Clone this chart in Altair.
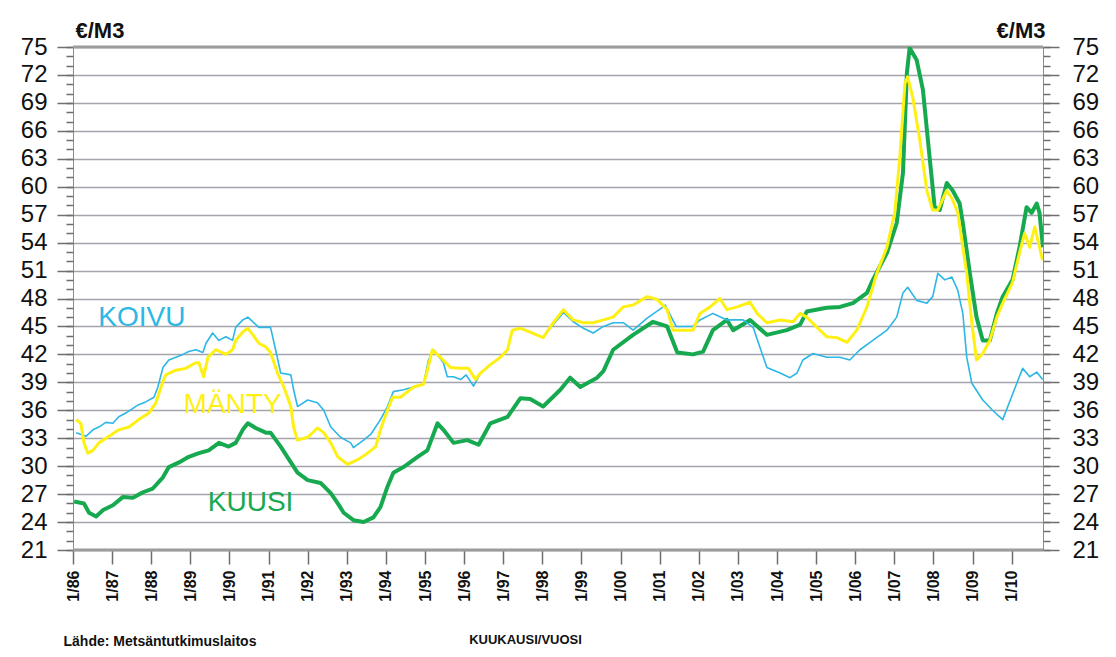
import altair as alt
import pandas as pd

# ---------------- data ----------------
koivu_t = [1986.08, 1986.33, 1986.51, 1986.66, 1986.84, 1987.02, 1987.17, 1987.35, 1987.53, 1987.68,
           1987.86, 1988.07, 1988.17, 1988.30, 1988.45, 1988.63, 1988.81, 1988.96, 1989.14, 1989.32,
           1989.40, 1989.57, 1989.73, 1989.91, 1990.08, 1990.16, 1990.34, 1990.47, 1990.60, 1990.75,
           1990.93, 1991.05, 1991.18, 1991.31, 1991.57, 1991.64, 1991.74, 1992.00, 1992.25, 1992.41,
           1992.59, 1992.84, 1993.10, 1993.17, 1993.43, 1993.61, 1993.86, 1994.04, 1994.19, 1994.45,
           1994.71, 1994.96, 1995.09, 1995.22, 1995.47, 1995.57, 1995.73, 1995.91, 1996.05, 1996.24,
           1996.42, 1996.67, 1996.93, 1997.11, 1997.23, 1997.44, 1997.69, 1998.02, 1998.28, 1998.54,
           1998.79, 1999.05, 1999.30, 1999.56, 1999.81, 2000.07, 2000.32, 2000.68, 2001.09, 2001.14,
           2001.42, 2001.85, 2002.03, 2002.36, 2002.72, 2003.13, 2003.39, 2003.56, 2003.74, 2004.08,
           2004.33, 2004.51, 2004.66, 2004.92, 2005.27, 2005.61, 2005.86, 2006.12, 2006.45, 2006.81,
           2007.06, 2007.22, 2007.34, 2007.57, 2007.83, 2007.98, 2008.11, 2008.29, 2008.47, 2008.62,
           2008.75, 2008.85, 2008.98, 2009.26, 2009.51, 2009.77, 2009.90, 2010.13, 2010.28, 2010.46,
           2010.64, 2010.79]
koivu_v = [33.6, 33.2, 33.9, 34.2, 34.7, 34.6, 35.3, 35.7, 36.2, 36.6,
           36.9, 37.4, 38.5, 40.6, 41.4, 41.7, 42.0, 42.3, 42.5, 42.2,
           43.2, 44.3, 43.5, 43.9, 43.5, 44.9, 45.7, 46.0, 45.5, 44.9,
           44.9, 44.9, 42.5, 40.0, 39.8, 38.2, 36.4, 37.1, 36.8, 36.0,
           34.2, 33.1, 32.5, 32.0, 32.8, 33.4, 35.0, 36.4, 38.0, 38.2,
           38.5, 38.8, 41.4, 42.5, 41.1, 39.6, 39.6, 39.3, 39.8, 38.6,
           40.0, 40.9, 41.7, 42.5, 44.6, 44.8, 44.4, 43.8, 45.2, 46.5,
           45.5, 44.8, 44.3, 45.0, 45.4, 45.4, 44.6, 45.9, 47.1, 47.3,
           45.0, 45.0, 45.7, 46.4, 45.7, 45.7, 44.9, 42.8, 40.6, 40.0,
           39.5, 40.0, 41.4, 42.1, 41.7, 41.7, 41.4, 42.5, 43.5, 44.6,
           46.0, 48.6, 49.2, 47.8, 47.5, 48.2, 50.7, 50.0, 50.3, 48.9,
           46.4, 41.7, 38.9, 37.1, 36.0, 35.0, 36.4, 38.9, 40.5, 39.6,
           40.1, 39.3]

manty_t = [1986.08, 1986.20, 1986.28, 1986.38, 1986.51, 1986.66, 1986.92, 1987.17, 1987.43, 1987.68,
           1987.94, 1988.12, 1988.25, 1988.37, 1988.63, 1988.88, 1989.14, 1989.22, 1989.34, 1989.45,
           1989.65, 1989.91, 1990.08, 1990.16, 1990.34, 1990.47, 1990.60, 1990.75, 1990.93, 1991.05,
           1991.23, 1991.39, 1991.57, 1991.64, 1991.74, 1992.00, 1992.25, 1992.41, 1992.59, 1992.77,
           1993.02, 1993.28, 1993.53, 1993.74, 1993.86, 1994.04, 1994.17, 1994.37, 1994.71, 1994.96,
           1995.06, 1995.19, 1995.39, 1995.65, 1995.91, 1996.11, 1996.29, 1996.42, 1996.67, 1996.93,
           1997.11, 1997.23, 1997.44, 1997.69, 1998.02, 1998.28, 1998.54, 1998.79, 1999.05, 1999.30,
           1999.56, 1999.81, 2000.07, 2000.32, 2000.68, 2000.93, 2001.19, 2001.34, 2001.52, 2001.85,
           2002.03, 2002.29, 2002.54, 2002.72, 2002.98, 2003.31, 2003.49, 2003.74, 2004.08, 2004.41,
           2004.59, 2004.76, 2005.02, 2005.27, 2005.53, 2005.79, 2006.04, 2006.30, 2006.55, 2006.81,
           2007.01, 2007.14, 2007.27, 2007.34, 2007.47, 2007.65, 2007.83, 2007.98, 2008.11, 2008.34,
           2008.49, 2008.62, 2008.85, 2008.98, 2009.10, 2009.26, 2009.44, 2009.62, 2009.77, 2010.02,
           2010.20, 2010.33, 2010.46, 2010.59, 2010.71, 2010.79]
manty_v = [35.0, 34.6, 32.5, 31.4, 31.7, 32.5, 33.2, 33.9, 34.2, 35.0,
           35.7, 36.8, 38.5, 39.8, 40.3, 40.5, 41.1, 41.1, 39.6, 41.7,
           42.5, 42.0, 42.5, 43.5, 44.4, 44.8, 44.1, 43.2, 42.8, 42.2,
           40.0, 38.5, 36.4, 34.2, 32.8, 33.1, 34.1, 33.6, 32.5, 31.0,
           30.2, 30.7, 31.4, 32.1, 33.9, 36.0, 37.4, 37.4, 38.5, 38.8,
           40.3, 42.5, 41.7, 40.6, 40.5, 40.5, 39.3, 40.0, 40.9, 41.7,
           42.5, 44.6, 44.8, 44.4, 43.8, 45.4, 46.8, 45.7, 45.4, 45.4,
           45.7, 46.0, 47.1, 47.3, 48.2, 47.9, 46.8, 44.6, 44.6, 44.6,
           46.4, 47.1, 48.0, 46.8, 47.1, 47.6, 46.4, 45.4, 45.7, 45.5,
           46.4, 46.0, 44.9, 43.9, 43.8, 43.3, 44.6, 47.1, 50.7, 53.5,
           57.2, 63.2, 71.1, 71.8, 69.6, 65.0, 59.6, 57.5, 57.5, 59.6,
           58.6, 57.2, 50.7, 45.4, 41.4, 42.1, 43.5, 46.0, 47.5, 49.7,
           52.9, 55.0, 53.5, 55.7, 53.5, 52.1]

kuusi_t = [1986.03, 1986.28, 1986.41, 1986.59, 1986.77, 1987.02, 1987.28, 1987.53, 1987.79, 1988.04,
           1988.30, 1988.45, 1988.71, 1988.96, 1989.22, 1989.47, 1989.73, 1989.98, 1990.16, 1990.34,
           1990.47, 1990.67, 1990.93, 1991.05, 1991.31, 1991.57, 1991.74, 1992.00, 1992.33, 1992.59,
           1992.77, 1992.92, 1993.17, 1993.43, 1993.68, 1993.86, 1994.04, 1994.19, 1994.45, 1994.81,
           1995.06, 1995.32, 1995.47, 1995.73, 1996.08, 1996.37, 1996.67, 1997.11, 1997.44, 1997.69,
           1998.02, 1998.46, 1998.71, 1998.97, 1999.40, 1999.56, 1999.81, 2000.32, 2000.83, 2001.19,
           2001.45, 2001.85, 2002.11, 2002.36, 2002.72, 2002.88, 2003.31, 2003.74, 2004.25, 2004.59,
           2004.76, 2005.27, 2005.61, 2005.94, 2006.30, 2006.45, 2006.81, 2007.06, 2007.22, 2007.32,
           2007.39, 2007.57, 2007.73, 2007.90, 2008.03, 2008.16, 2008.34, 2008.49, 2008.67, 2008.75,
           2008.93, 2009.10, 2009.26, 2009.44, 2009.62, 2009.77, 2010.02, 2010.20, 2010.38, 2010.51,
           2010.64, 2010.71, 2010.80]
kuusi_v = [26.2, 26.0, 25.0, 24.6, 25.3, 25.8, 26.7, 26.6, 27.2, 27.6,
           28.8, 29.9, 30.4, 31.0, 31.4, 31.7, 32.5, 32.1, 32.5, 33.9,
           34.6, 34.1, 33.6, 33.6, 32.1, 30.4, 29.3, 28.5, 28.2, 27.1,
           26.0, 25.0, 24.2, 24.0, 24.5, 25.6, 27.8, 29.3, 29.9, 31.0,
           31.7, 34.6, 33.9, 32.5, 32.8, 32.3, 34.6, 35.3, 37.3, 37.2,
           36.4, 38.2, 39.5, 38.5, 39.5, 40.2, 42.5, 44.1, 45.5, 45.0,
           42.2, 42.0, 42.3, 44.6, 45.7, 44.6, 45.7, 44.1, 44.6, 45.2,
           46.6, 47.0, 47.1, 47.5, 48.6, 50.0, 52.9, 56.1, 61.5, 72.2,
           74.9, 73.6, 70.4, 63.2, 57.8, 57.5, 60.4, 59.6, 58.2, 56.1,
           50.7, 46.0, 43.5, 43.5, 46.4, 48.2, 50.0, 53.5, 57.8, 57.2,
           58.2, 57.2, 53.5]

series_names = ["KOIVU", "MÄNTY", "KUUSI"]
series_colors = ["#2cb7e6", "#fff014", "#17a94f"]
label_t = [1987.76, 1990.08, 1990.54]
label_v = [45.9, 36.6, 26.05]

year_ticks = list(range(1986, 2011))
y_major = list(range(21, 76, 3))
y_minor = list(range(21, 76))
edge_values = [75, 21]

# ---------------- tables ----------------
rows = []
for name, ts, vs in [("KOIVU", koivu_t, koivu_v), ("MÄNTY", manty_t, manty_v), ("KUUSI", kuusi_t, kuusi_v)]:
    for t, v in zip(ts, vs, strict=True):
        rows.append({"sarja": name, "t": t, "v": v})
df = pd.DataFrame(rows)
labels_df = pd.DataFrame({"sarja": series_names, "t": label_t, "v": label_v})
edge_df = pd.DataFrame({"v": edge_values})

FONT = "Liberation Sans"
TICK = "#6e6e6e"
xscale = alt.Scale(domain=[1986, 2010.8], nice=False, zero=False)
yscale = alt.Scale(domain=[21, 75], nice=False, zero=False)
cscale = alt.Scale(domain=series_names, range=series_colors)

# ---------------- axes ----------------
left_major = alt.Axis(orient="left", values=y_major, grid=True, gridColor="#a4a4ac", gridWidth=1.6,
                      ticks=True, tickSize=16, tickColor=TICK, tickWidth=1.5,
                      domain=True, domainColor="#8c8c8c", domainWidth=1,
                      labelFont=FONT, labelFontSize=24, labelColor="#111111", labelPadding=10,
                      title="€/M3", titleAngle=0, titleAlign="left", titleBaseline="alphabetic",
                      titleX=2, titleY=-10, titleFont=FONT, titleFontSize=22, titleFontWeight="bold",
                      titleColor="#111111")
left_minor = alt.Axis(orient="left", values=y_minor, grid=False, labels=False, domain=False,
                      ticks=True, tickSize=7, tickColor=TICK, tickWidth=1.5, title=None)
right_major = alt.Axis(orient="right", values=y_major, grid=False,
                       ticks=True, tickSize=16, tickColor=TICK, tickWidth=1.5,
                       domain=True, domainColor="#8c8c8c", domainWidth=1,
                       labelFont=FONT, labelFontSize=24, labelColor="#111111", labelPadding=13,
                       title="€/M3", titleAngle=0, titleAlign="right", titleBaseline="alphabetic",
                       titleX=2, titleY=-10, titleFont=FONT, titleFontSize=22, titleFontWeight="bold",
                       titleColor="#111111")
right_minor = alt.Axis(orient="right", values=y_minor, grid=False, labels=False, domain=False,
                       ticks=True, tickSize=7, tickColor=TICK, tickWidth=1.5, title=None)
x_main = alt.Axis(orient="bottom", values=year_ticks,
                  labelExpr="'1/' + substring(toString(datum.value), 2)",
                  labelAngle=270, labelFont=FONT, labelFontSize=16, labelFontWeight="bold",
                  labelColor="#111111", labelPadding=6, tickSize=14, tickColor=TICK, tickWidth=1.5,
                  domain=False, grid=False,
                  title="KUUKAUSI/VUOSI", titleX=452, titleY=93, titleAlign="center",
                  titleBaseline="alphabetic", titleFont=FONT, titleFontSize=13,
                  titleFontWeight="bold", titleColor="#111111")
x_footer = alt.Axis(orient="bottom", labels=False, ticks=False, domain=False, grid=False,
                    title="Lähde: Metsäntutkimuslaitos", titleX=-10, titleY=95, titleAlign="left",
                    titleBaseline="alphabetic", titleFont=FONT, titleFontSize=14,
                    titleFontWeight="bold", titleColor="#111111")

# ---------------- layers ----------------
edges = alt.Chart(edge_df).mark_rule(color="#9c9c9c", strokeWidth=3).encode(
    y=alt.Y("v:Q", scale=yscale, axis=left_major)
)

def line(name, color, width, xaxis, yaxis):
    return alt.Chart(df).transform_filter(alt.datum.sarja == name).mark_line(
        color=color, strokeWidth=width, clip=True, strokeJoin="round"
    ).encode(
        x=alt.X("t:Q", scale=xscale, axis=xaxis),
        y=alt.Y("v:Q", scale=yscale, axis=yaxis),
        order="t:Q",
    )

kuusi = line("KUUSI", series_colors[2], 4, x_main, left_minor)
koivu = line("KOIVU", series_colors[0], 1.6, None, right_major)
manty = line("MÄNTY", series_colors[1], 3, None, right_minor)

texts = alt.Chart(labels_df).mark_text(font=FONT, fontSize=28, baseline="middle", align="center").encode(
    x=alt.X("t:Q", scale=xscale, axis=x_footer),
    y=alt.Y("v:Q", scale=yscale, axis=None),
    text="sarja:N",
    color=alt.Color("sarja:N", scale=cscale, legend=None),
)

chart = alt.layer(edges, kuusi, koivu, manty, texts).resolve_axis(
    x="independent", y="independent"
).properties(
    width=970, height=503,
    autosize=alt.AutoSizeParams(type="none"),
    padding={"left": 65, "top": 39, "right": 60, "bottom": 98},
    background="white",
).configure_view(stroke=None)

chart.save("out.html", embed_options={"renderer": "svg", "actions": False})
